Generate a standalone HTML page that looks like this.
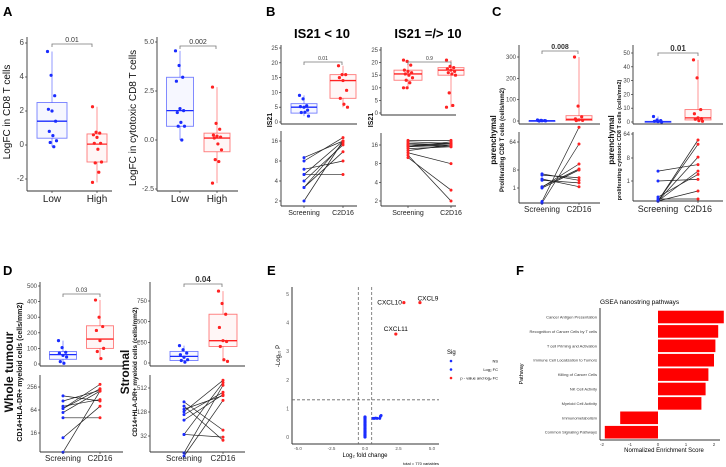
<!DOCTYPE html>
<html><head><meta charset="utf-8"><style>
html,body{margin:0;padding:0;background:#fff;}
svg{display:block;font-family:"Liberation Sans",sans-serif;}
</style></head><body>
<svg id="fig" width="726" height="467" viewBox="0 0 726 467">
<g font-weight="bold" font-size="13">
<text x="3" y="16">A</text>
<text x="266" y="16">B</text>
<text x="492" y="16">C</text>
<text x="3" y="275">D</text>
<text x="267" y="275">E</text>
<text x="516" y="275">F</text>
</g>
<text x="322" y="38" text-anchor="middle" font-size="13" font-weight="bold">IS21 &lt; 10</text>
<text x="428" y="38" text-anchor="middle" font-size="13" font-weight="bold">IS21 =/&gt; 10</text>
</svg>
<script>
// ---------- data ----------
const aLeftLow=[5.5,4.1,2.9,2.1,2.0,1.4,0.8,0.55,0.25,0.15,-0.1];
const aLeftHigh=[2.25,0.75,0.7,0.6,0.45,0.1,0.1,-0.25,-1.0,-1.05,-1.6,-2.2];
const aLeftBoxLow=[0.4,1.4,2.5];
const aLeftBoxHigh=[-1.0,0.05,0.65];
const aRightLow=[4.55,3.8,3.2,3.0,1.6,1.5,1.4,0.9,0.7,0.7,0.0];
const aRightHigh=[2.7,0.85,0.55,0.25,0.2,0.15,0.1,-0.2,-0.5,-1.0,-1.1,-2.2];
const aRightBoxLow=[0.7,1.5,3.2];
const aRightBoxHigh=[-0.6,0.1,0.35];
const bLeftScr=[9,7.8,5.5,5.2,5,4,3.2,3.3,2];
const bLeftC2=[19,16,16,15,14,10.7,8,6,5];
const bLeftBoxScr=[3,5,6.2];
const bLeftBoxC2=[8,14,16];
const bLeftPairA=[2,3.2,3.2,4,5,5,6,8,9];
const bLeftPairB=[16,15,11,14,5,16,8,18,16];
const bRightScr=[21,20.5,19,17,16.5,16,15.5,15,14,13,12,10,10];
const bRightC2=[21,18.5,18,17.5,17,16.5,16,15.5,15,8,3,2.3];
const bRightBoxScr=[13,15.5,17];
const bRightBoxC2=[15,17,18];
const bRightPairA=[19,18,17,16,16,15,14,13,12,10,11,15,16];
const bRightPairB=[19,17,16,17,15,16,15,16,8,3,2,18,16];
const cLeftScr=[5,3,2,1.5,1,0.5,0];
const cLeftC2=[300,70,20,10,5,3,2];
const cLeftBoxScr=[0.5,1,2];
const cLeftBoxC2=[2,8,25];
const cLeftPairA=[0.1,0,1.3,1.5,1,4,4.5,6,6.5];
const cLeftPairB=[300,60,20,10,8,3,1.5,5,4];
const cRightScr=[4,1.5,1,0.5,0.3,0];
const cRightC2=[45,32,9,6,3,2.5,2,1,0.5];
const cRightBoxScr=[0,0.2,0.5];
const cRightBoxC2=[1.5,3,9];
const cRightPairA=[4,1,0.1,0,0,0,0.2,0,0];
const cRightPairB=[6,1.5,0.1,40,50,10,3,4,0.5];
const dLeftScr=[150,105,75,70,55,45,15,5];
const dLeftC2=[410,300,240,215,150,100,80,35];
const dLeftBoxScr=[30,60,80];
const dLeftBoxC2=[100,160,245];
const dLeftPairA=[150,110,80,70,70,55,40,12,5];
const dLeftPairB=[110,210,120,300,230,200,40,80,200];
const dRightScr=[210,160,120,100,70,40,30,10];
const dRightC2=[870,720,590,430,270,260,200,40,20];
const dRightBoxScr=[30,80,140];
const dRightBoxC2=[200,270,590];
const dRightPairA=[230,180,150,130,110,80,35,35,12,10];
const dRightPairB=[45,25,330,800,400,350,700,30,600,250];
const eNsX=[0,0,0,0,0,0,0,0,0,0,0,0,0,0,0,0];
const eNsY=[0,0.05,0.1,0.15,0.2,0.25,0.3,0.35,0.4,0.45,0.5,0.55,0.6,0.65,0.68,0.7];
const eFcX=[0.6,0.7,0.8,0.9,1.1,1.15,1.2];
const eFcY=[0.65,0.65,0.66,0.65,0.65,0.72,0.75];
const eSigX=[4.1,2.9,2.3];
const eSigY=[4.7,4.7,3.6];
const eSigLabels=["CXCL9","CXCL10","CXCL11"];
const fPathways=["Cancer Antigen Presentation","Recognition of Cancer Cells by T cells","T cell Priming and Activation","Immune Cell Localization to Tumors","Killing of Cancer Cells","NK Cell Activity","Myeloid Cell Activity","Immunometabolism","Common Signaling Pathways"];
const fNES=[2.35,2.15,2.05,2.0,1.8,1.7,1.55,-1.35,-1.9];
const fTicks=[-2,-1,0,1,2];

// ---------- helpers ----------
const svg=document.getElementById('fig');
const NS='http://www.w3.org/2000/svg';
const BLUE='#1a2cff', RED='#ff2222';
function mk(tag,attrs,name,parent){
  const e=document.createElementNS(NS,tag);
  for(const k in attrs)e.setAttribute(k,attrs[k]);
  
  
  (parent||svg).appendChild(e);return e;
}
function txt(x,y,s,attrs,name,parent){const e=mk('text',Object.assign({x:x,y:y},attrs||{}),name,parent);e.textContent=s;return e;}
function lin(d0,d1,r0,r1){return v=>r0+(v-d0)*(r1-r0)/(d1-d0);}
function logS(v0,p0,v1,p1){return v=>p0+(Math.log2(v)-Math.log2(v0))*(p1-p0)/(Math.log2(v1)-Math.log2(v0));}
function pw(ds,rs){return v=>{let i=0;while(i<ds.length-2&&v>ds[i+1])i++;return rs[i]+(v-ds[i])*(rs[i+1]-rs[i])/(ds[i+1]-ds[i]);};}
function axes(g,x0,x1,yTop,yBot,ticks,labels,sc,fs){
  mk('line',{x1:x0,y1:yTop,x2:x0,y2:yBot,stroke:'#333','stroke-width':0.9},'y-axis-line',g);
  mk('line',{x1:x0,y1:yBot,x2:x1,y2:yBot,stroke:'#333','stroke-width':0.9},'x-axis-line',g);
  ticks.forEach((t,i)=>{const y=sc(t);
    mk('line',{x1:x0-2,y1:y,x2:x0,y2:y,stroke:'#333','stroke-width':0.7},'y-tick',g);
    txt(x0-3,y+2,labels[i],{'text-anchor':'end','font-size':fs||6,fill:'#444'},'y-tick-label',g);});
}
function xcat(g,xs,labels,y,fs){xs.forEach((x,i)=>{
  mk('line',{x1:x,y1:y,x2:x,y2:y+2,stroke:'#333','stroke-width':0.7},'x-tick',g);
  txt(x,y+(fs>8?11:9),labels[i],{'text-anchor':'middle','font-size':fs||7,fill:'#222'},'x-tick-label',g);});}
function jit(i){return ((i*37)%11-5)*0.9;}
function box(g,cx,w,q,vals,sc,col){
  const mn=Math.min(...vals),mx=Math.max(...vals);
  mk('line',{x1:cx,y1:sc(mn),x2:cx,y2:sc(q[0]),stroke:col,'stroke-width':0.8,opacity:0.6},'whisker-low',g);
  mk('line',{x1:cx,y1:sc(q[2]),x2:cx,y2:sc(mx),stroke:col,'stroke-width':0.8,opacity:0.6},'whisker-high',g);
  mk('rect',{x:cx-w/2,y:sc(q[2]),width:w,height:Math.max(1,sc(q[0])-sc(q[2])),fill:col,'fill-opacity':0.04,stroke:col,'stroke-width':0.9,'stroke-opacity':0.6},'box',g);
  mk('line',{x1:cx-w/2,y1:sc(q[1]),x2:cx+w/2,y2:sc(q[1]),stroke:col,'stroke-width':1.3},'median-line',g);
  vals.forEach((v,i)=>mk('circle',{cx:cx+jit(i),cy:sc(v),r:1.6,fill:col},'data-point',g));
}
function bracket(g,x1,x2,y,label,fs,bold){
  mk('path',{d:`M${x1},${y+3}V${y}H${x2}V${y+3}`,fill:'none',stroke:'#777','stroke-width':0.8},'significance-bracket',g);
  txt((x1+x2)/2,y-2,label,{'text-anchor':'middle','font-size':fs,fill:'#333','font-weight':bold?'bold':'normal'},'p-value-label',g);}
function pairs(g,xa,xb,A,B,sc,ca,cb){
  A.forEach((a,i)=>mk('line',{x1:xa,y1:sc(a),x2:xb,y2:sc(B[i]),stroke:'#222','stroke-width':0.7},'pair-line',g));
  A.forEach(a=>mk('circle',{cx:xa,cy:sc(a),r:1.5,fill:ca},'point-screening',g));
  B.forEach(b=>mk('circle',{cx:xb,cy:sc(b),r:1.5,fill:cb},'point-c2d16',g));}
function ylab(x,y,s,fs,bold,name){txt(0,0,s,{transform:`translate(${x},${y}) rotate(-90)`,'text-anchor':'middle','font-size':fs,'font-weight':bold?'bold':'normal',fill:'#111'},name);}

// ---------- Panel A ----------
(function(){
  let g=mk('g',{},'panel-a-left');
  let sc=lin(0,6,145,43);
  axes(g,27,112,37,191,[6,4,2,0,-2],['6','4','2','0','-2'],sc,8);
  box(g,52,30,aLeftBoxLow,aLeftLow,sc,BLUE);
  box(g,97,20,aLeftBoxHigh,aLeftHigh,sc,RED);
  xcat(g,[52,97],['Low','High'],191,10);
  bracket(g,52,92,44,'0.01',7);
  ylab(10,112,'LogFC in CD8 T cells',10,false,'y-axis-title-a-left');
  g=mk('g',{},'panel-a-right');
  sc=lin(0,5,140,42);
  axes(g,157,238,37,191,[5,2.5,0,-2.5],['5.0','2.5','0.0','-2.5'],sc,7);
  box(g,180,27,aRightBoxLow,aRightLow,sc,BLUE);
  box(g,217,26,aRightBoxHigh,aRightHigh,sc,RED);
  xcat(g,[180,217],['Low','High'],191,10);
  bracket(g,180,216,46,'0.002',7);
  ylab(136,118,'LogFC in cytotoxic CD8 T cells',10,false,'y-axis-title-a-right');
})();

// ---------- Panel B ----------
(function(){
  let g=mk('g',{},'panel-b-left-top');
  let sc=lin(0,25,122,48);
  axes(g,281,357,45,124,[25,20,15,10,5,0],['25','20','15','10','5','0'],sc,6);
  box(g,304,26,bLeftBoxScr,bLeftScr,sc,BLUE);
  box(g,343,26,bLeftBoxC2,bLeftC2,sc,RED);
  bracket(g,304,342,62,'0.01',5);
  g=mk('g',{},'panel-b-left-bottom');
  sc=logS(16,141,2,201);
  axes(g,281,357,131,206,[16,8,4,2],['16','8','4','2'],sc,6);
  pairs(g,304,343,bLeftPairA,bLeftPairB,sc,BLUE,RED);
  xcat(g,[304,343],['Screening','C2D16'],206,7);
  ylab(272,120,'IS21',7,true,'y-axis-title-b-left');
  g=mk('g',{},'panel-b-right-top');
  sc=lin(0,25,113,50);
  axes(g,381,456,47,115,[25,20,15,10,5,0],['25','20','15','10','5','0'],sc,6);
  box(g,408,28,bRightBoxScr,bRightScr,sc,RED);
  box(g,451,26,bRightBoxC2,bRightC2,sc,RED);
  bracket(g,408,451,62,'0.9',5);
  g=mk('g',{},'panel-b-right-bottom');
  sc=logS(16,145,2,201);
  axes(g,381,456,133,206,[16,8,4,2],['16','8','4','2'],sc,6);
  pairs(g,408,451,bRightPairA,bRightPairB,sc,RED,RED);
  xcat(g,[408,451],['Screening','C2D16'],206,7);
  ylab(373,120,'IS21',7,true,'y-axis-title-b-right');
})();

// ---------- Panel C ----------
(function(){
  let g=mk('g',{},'panel-c-left-top');
  let sc=lin(0,300,121,57);
  axes(g,519,600,45,124,[300,200,100,0],['300','200','100','0'],sc,6);
  box(g,542,26,cLeftBoxScr,cLeftScr,sc,BLUE);
  box(g,579,26,cLeftBoxC2,cLeftC2,sc,RED);
  bracket(g,542,578,51,'0.008',7,true);
  g=mk('g',{},'panel-c-left-bottom');
  sc=pw([0,1,8,64,512],[203,188,170,142,114]);
  axes(g,519,600,132,203,[64,8,1],['64','8','1'],sc,6);
  pairs(g,542,579,cLeftPairA,cLeftPairB,sc,BLUE,RED);
  xcat(g,[542,579],['Screening','C2D16'],203,8);
  ylab(496,140,'parenchymal',8,true,'y-axis-title-c-left-1');
  ylab(504,140,'Proliferating CD8 T cells (cells/mm2)',6,true,'y-axis-title-c-left-2');
  g=mk('g',{},'panel-c-right-top');
  sc=lin(0,50,122,53);
  axes(g,633,723,45,124,[50,40,30,20,10,0],['50','40','30','20','10','0'],sc,6);
  box(g,658,26,cRightBoxScr,cRightScr,sc,BLUE);
  box(g,698,26,cRightBoxC2,cRightC2,sc,RED);
  bracket(g,658,698,53,'0.01',8,true);
  g=mk('g',{},'panel-c-right-bottom');
  sc=pw([0,1,8,64],[201,181,158,134]);
  axes(g,633,723,132,201,[64,8,1],['64','8','1'],sc,6);
  pairs(g,658,698,cRightPairA,cRightPairB,sc,BLUE,RED);
  xcat(g,[658,698],['Screening','C2D16'],201,9);
  ylab(614,140,'parenchymal',8,true,'y-axis-title-c-right-1');
  ylab(621,140,'proliferating cytotoxic CD8 T cells (cells/mm2)',5.5,true,'y-axis-title-c-right-2');
})();

// ---------- Panel D ----------
(function(){
  let g=mk('g',{},'panel-d-left-top');
  let sc=lin(0,500,364,286);
  axes(g,40,123,282,366,[500,400,300,200,100,0],['500','400','300','200','100','0'],sc,6);
  box(g,63,27,dLeftBoxScr,dLeftScr,sc,BLUE);
  box(g,100,27,dLeftBoxC2,dLeftC2,sc,RED);
  bracket(g,63,100,294,'0.03',6);
  g=mk('g',{},'panel-d-left-bottom');
  sc=logS(256,387,16,433);
  axes(g,40,123,375,452,[256,64,16],['256','64','16'],sc,6);
  pairs(g,63,100,dLeftPairA,dLeftPairB,sc,BLUE,RED);
  xcat(g,[63,100],['Screening','C2D16'],452,8);
  ylab(13,372,'Whole tumour',12,true,'y-axis-title-d-left-1');
  ylab(22,372,'CD14+HLA-DR+ myeloid cells (cells/mm2)',7,true,'y-axis-title-d-left-2');
  g=mk('g',{},'panel-d-right-top');
  sc=lin(0,750,363,301);
  axes(g,150,245,282,366,[750,500,250,0],['750','500','250','0'],sc,6);
  box(g,184,28,dRightBoxScr,dRightScr,sc,BLUE);
  box(g,223,28,dRightBoxC2,dRightC2,sc,RED);
  bracket(g,184,222,284,'0.04',8,true);
  g=mk('g',{},'panel-d-right-bottom');
  sc=logS(512,388,32,436);
  axes(g,150,245,375,452,[512,128,32],['512','128','32'],sc,6);
  pairs(g,184,223,dRightPairA,dRightPairB,sc,BLUE,RED);
  xcat(g,[184,223],['Screening','C2D16'],452,8);
  ylab(129,372,'Stromal',12,true,'y-axis-title-d-right-1');
  ylab(137,372,'CD14+HLA-DR+ myeloid cells (cells/mm2)',6.5,true,'y-axis-title-d-right-2');
})();

// ---------- Panel E ----------
(function(){
  const g=mk('g',{},'panel-e-volcano');
  const sx=lin(0,5,365,432), sy=lin(0,5,437,294);
  const xt=[-5,-2.5,0,2.5,5];
  mk('line',{x1:292,y1:287,x2:292,y2:444,stroke:'#333','stroke-width':1},'y-axis-line',g);
  mk('line',{x1:292,y1:444,x2:439,y2:444,stroke:'#333','stroke-width':1},'x-axis-line',g);
  [0,1,2,3,4,5].forEach(t=>{txt(289,sy(t)+2,String(t),{'text-anchor':'end','font-size':5,fill:'#555'},'y-tick-label',g);});
  xt.forEach(t=>{txt(sx(t),450,t.toFixed(1),{'text-anchor':'middle','font-size':4.5,fill:'#555'},'x-tick-label',g);});
  [-0.5,0.5].forEach(v=>mk('line',{x1:sx(v),y1:287,x2:sx(v),y2:444,stroke:'#666','stroke-width':0.8,'stroke-dasharray':'3,2'},'fc-threshold-line',g));
  mk('line',{x1:292,y1:sy(1.3),x2:439,y2:sy(1.3),stroke:'#666','stroke-width':0.8,'stroke-dasharray':'3,2'},'p-threshold-line',g);
  eNsX.forEach((x,i)=>mk('circle',{cx:sx(x),cy:sy(eNsY[i]),r:1.6,fill:BLUE},'ns-point',g));
  eFcX.forEach((x,i)=>mk('circle',{cx:sx(x),cy:sy(eFcY[i]),r:1.5,fill:BLUE},'fc-point',g));
  eSigX.forEach((x,i)=>{mk('circle',{cx:sx(x),cy:sy(eSigY[i]),r:1.6,fill:RED},'sig-point',g);});
  txt(sx(eSigX[0])+8,sy(eSigY[0])-2,eSigLabels[0],{'text-anchor':'middle','font-size':6.5},'gene-label',g);
  txt(sx(eSigX[1])-2,sy(eSigY[1])+2,eSigLabels[1],{'text-anchor':'end','font-size':6.5},'gene-label',g);
  txt(sx(eSigX[2]),sy(eSigY[2])-3,eSigLabels[2],{'text-anchor':'middle','font-size':6.5},'gene-label',g);
  txt(365,457,'Log\u2082 fold change',{'text-anchor':'middle','font-size':6},'x-axis-title',g);
  txt(0,0,'-Log\u2081\u2080 P',{transform:'translate(280,356) rotate(-90)','text-anchor':'middle','font-size':6},'y-axis-title',g);
  txt(439,465,'total = 770 variables',{'text-anchor':'end','font-size':4},'caption',g);
  const lg=mk('g',{},'legend');
  txt(447,354,'Sig',{'font-size':6},'legend-title',lg);
  const lt=['NS','Log\u2082 FC','p - value and log\u2082 FC'], lc=[BLUE,BLUE,RED];
  lt.forEach((s,i)=>{mk('circle',{cx:451,cy:361+i*8.5,r:1.3,fill:lc[i]},'legend-swatch',lg);
    txt(498,362.5+i*8.5,s,{'text-anchor':'end','font-size':4},'legend-entry',lg);});
})();

// ---------- Panel F ----------
(function(){
  const g=mk('g',{},'panel-f-gsea');
  const sx=lin(0,1,658,686);
  const y0=317, step=14.4, bh=12.6;
  txt(600,304,'GSEA nanostring pathways',{'font-size':6.5},'chart-title',g);
  fNES.forEach((v,i)=>{const cy=y0+i*step;
    const xa=sx(Math.min(0,v)), xb=sx(Math.max(0,v));
    mk('rect',{x:xa,y:cy-bh/2,width:xb-xa,height:bh,fill:'#ff0000'},'bar-'+i,g);
    txt(597,cy+1.5,fPathways[i],{'text-anchor':'end','font-size':4,fill:'#333'},'pathway-label',g);});
  mk('line',{x1:600,y1:308,x2:600,y2:440,stroke:'#333','stroke-width':1},'y-axis-line',g);
  mk('line',{x1:600,y1:440,x2:720,y2:440,stroke:'#333','stroke-width':1},'x-axis-line',g);
  fTicks.forEach(t=>txt(sx(t),446,String(t),{'text-anchor':'middle','font-size':4.5,fill:'#444'},'x-tick-label',g));
  txt(664,452,'Normalized Enrichment Score',{'text-anchor':'middle','font-size':6},'x-axis-title',g);
  txt(0,0,'Pathway',{transform:'translate(523,374) rotate(-90)','text-anchor':'middle','font-size':5.5},'y-axis-title',g);
})();
</script>
</body></html>
